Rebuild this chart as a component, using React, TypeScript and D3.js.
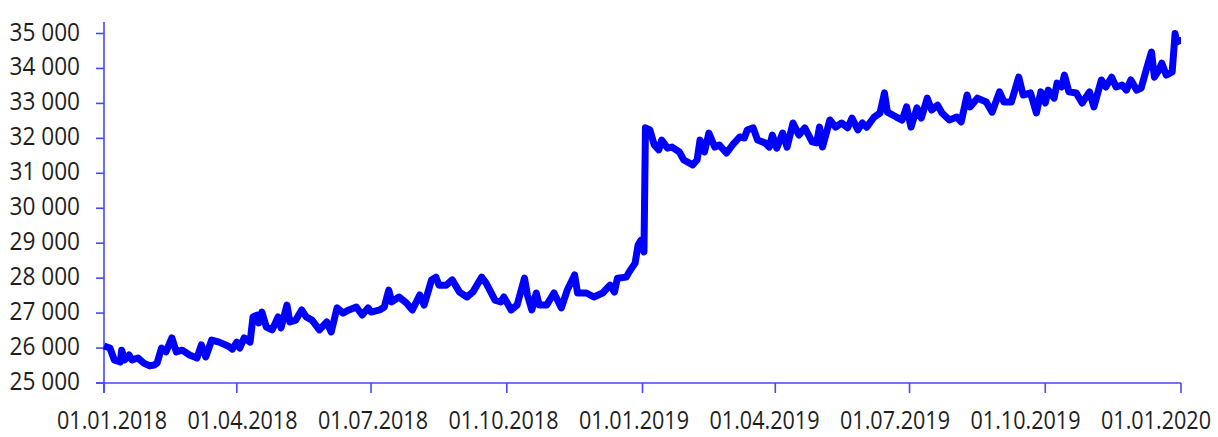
import React from 'react';
import * as d3 from 'd3';

// readings
const dates: string[] = [
  '2018-01-01', '2018-01-05', '2018-01-08', '2018-01-12', '2018-01-13', '2018-01-15', '2018-01-18', '2018-01-20',
  '2018-01-24', '2018-01-28', '2018-02-01', '2018-02-04', '2018-02-06', '2018-02-09', '2018-02-12', '2018-02-16',
  '2018-02-19', '2018-02-23', '2018-02-28', '2018-03-05', '2018-03-08', '2018-03-11', '2018-03-15', '2018-03-20',
  '2018-03-26', '2018-03-29', '2018-04-01', '2018-04-03', '2018-04-06', '2018-04-10', '2018-04-12', '2018-04-15',
  '2018-04-16', '2018-04-18', '2018-04-21', '2018-04-25', '2018-04-29', '2018-05-01', '2018-05-05', '2018-05-07',
  '2018-05-11', '2018-05-15', '2018-05-18', '2018-05-22', '2018-05-27', '2018-06-01', '2018-06-04', '2018-06-08',
  '2018-06-12', '2018-06-16', '2018-06-21', '2018-06-25', '2018-06-29', '2018-07-01', '2018-07-07', '2018-07-10',
  '2018-07-13', '2018-07-15', '2018-07-20', '2018-07-25', '2018-07-29', '2018-08-03', '2018-08-06', '2018-08-11',
  '2018-08-14', '2018-08-16', '2018-08-21', '2018-08-25', '2018-08-30', '2018-09-04', '2018-09-08', '2018-09-14',
  '2018-09-17', '2018-09-23', '2018-09-27', '2018-09-29', '2018-10-04', '2018-10-08', '2018-10-13', '2018-10-15',
  '2018-10-18', '2018-10-21', '2018-10-23', '2018-10-28', '2018-11-02', '2018-11-07', '2018-11-11', '2018-11-16',
  '2018-11-18', '2018-11-24', '2018-11-29', '2018-12-05', '2018-12-10', '2018-12-13', '2018-12-15', '2018-12-21',
  '2018-12-23', '2018-12-27', '2018-12-29', '2018-12-31', '2019-01-02', '2019-01-03', '2019-01-06', '2019-01-09',
  '2019-01-12', '2019-01-14', '2019-01-18', '2019-01-21', '2019-01-26', '2019-01-29', '2019-02-04', '2019-02-07',
  '2019-02-09', '2019-02-12', '2019-02-15', '2019-02-19', '2019-02-22', '2019-02-27', '2019-03-03', '2019-03-08',
  '2019-03-11', '2019-03-13', '2019-03-17', '2019-03-20', '2019-03-25', '2019-03-28', '2019-03-30', '2019-04-02',
  '2019-04-06', '2019-04-09', '2019-04-13', '2019-04-17', '2019-04-21', '2019-04-26', '2019-04-29', '2019-05-01',
  '2019-05-03', '2019-05-08', '2019-05-12', '2019-05-16', '2019-05-20', '2019-05-23', '2019-05-27', '2019-05-30',
  '2019-06-02', '2019-06-07', '2019-06-11', '2019-06-14', '2019-06-16', '2019-06-22', '2019-06-26', '2019-06-29',
  '2019-07-02', '2019-07-06', '2019-07-09', '2019-07-13', '2019-07-16', '2019-07-20', '2019-07-23', '2019-07-28',
  '2019-08-02', '2019-08-05', '2019-08-09', '2019-08-11', '2019-08-16', '2019-08-22', '2019-08-26', '2019-08-31',
  '2019-09-03', '2019-09-08', '2019-09-13', '2019-09-16', '2019-09-21', '2019-09-25', '2019-09-28', '2019-10-01',
  '2019-10-03', '2019-10-07', '2019-10-09', '2019-10-12', '2019-10-14', '2019-10-17', '2019-10-22', '2019-10-26',
  '2019-10-31', '2019-11-03', '2019-11-08', '2019-11-11', '2019-11-15', '2019-11-18', '2019-11-22', '2019-11-25',
  '2019-11-28', '2019-12-02', '2019-12-05', '2019-12-09', '2019-12-12', '2019-12-14', '2019-12-17', '2019-12-19',
  '2019-12-22', '2019-12-26', '2019-12-28', '2019-12-29', '2019-12-31', '2020-01-01',
];

const values: number[] = [
  26060, 26000, 25660, 25600, 25940, 25660, 25800, 25660,
  25715, 25570, 25490, 25515, 25570, 26000, 25890, 26290,
  25890, 25940, 25800, 25715, 26090, 25745, 26230, 26170,
  26060, 25970, 26170, 26000, 26290, 26170, 26890, 26945,
  26720, 27030, 26600, 26520, 26890, 26575, 27230, 26745,
  26800, 27090, 26890, 26800, 26520, 26745, 26460, 27150,
  27000, 27090, 27175, 26945, 27150, 27030, 27090, 27175,
  27660, 27320, 27460, 27290, 27090, 27520, 27230, 27950,
  28030, 27800, 27800, 27950, 27600, 27460, 27600, 28030,
  27860, 27370, 27320, 27460, 27090, 27230, 28000, 27520,
  27090, 27575, 27230, 27230, 27575, 27150, 27660, 28090,
  27575, 27575, 27460, 27575, 27800, 27600, 28000, 28030,
  28180, 28430, 28950, 29090, 28750, 32300, 32240, 31810,
  31670, 31950, 31720, 31750, 31610, 31380, 31240, 31380,
  31950, 31610, 32150, 31750, 31810, 31580, 31810, 32040,
  32010, 32240, 32300, 31950, 31870, 31750, 32095, 31720,
  32150, 31750, 32440, 32095, 32300, 31900, 31870, 32320,
  31750, 32525, 32320, 32440, 32300, 32580, 32240, 32440,
  32320, 32610, 32725, 33300, 32750, 32610, 32525, 32900,
  32320, 32870, 32580, 33150, 32810, 32950, 32725, 32525,
  32610, 32470, 33240, 32900, 33150, 33040, 32750, 33330,
  33040, 33040, 33750, 33240, 33300, 32725, 33330, 33010,
  33380, 33150, 33580, 33470, 33810, 33330, 33300, 33010,
  33330, 32900, 33670, 33470, 33750, 33470, 33525, 33380,
  33670, 33380, 33440, 34040, 34470, 33750, 33950, 34150,
  33810, 33900, 35000, 34750, 34800, 34800,
];

const yTicks: number[] = [25000, 26000, 27000, 28000, 29000, 30000, 31000, 32000, 33000, 34000, 35000];
const xTickLabels: string[] = [
  '01.01.2018', '01.04.2018', '01.07.2018', '01.10.2018', '01.01.2019',
  '01.04.2019', '01.07.2019', '01.10.2019', '01.01.2020',
];

const W = 1218;
const H = 437;
const axisColor = '#4646ff';
const textColor = '#1e1e1e';
const font = "'Open Sans', 'Noto Sans', sans-serif";

const parse = d3.timeParse('%Y-%m-%d');

export default function App() {
  const data = dates.map((d, i) => ({ date: parse(d) as Date, value: values[i] }));

  const x = d3.scaleTime()
    .domain([parse('2018-01-01') as Date, parse('2020-01-01') as Date])
    .range([104, 1181]);
  const y = d3.scaleLinear().domain([25000, 35000]).range([383, 33.5]);

  const tickDates = d3.timeMonth.every(3)!.range(parse('2018-01-01') as Date, parse('2020-01-02') as Date);
  // labels sit on their own even spacing in the source picture
  const labelX = d3.scaleLinear().domain([0, xTickLabels.length - 1]).range([112, 1156]);

  const line = d3.line<{ date: Date; value: number }>()
    .x(d => x(d.date))
    .y(d => y(d.value));

  const fmt = (v: number) => d3.format(',')(v).replace(',', ' ');

  return (
    <svg
      width={W}
      height={H}
      style={{ position: 'fixed', left: 0, top: 0, background: '#fff' }}
    >
      {/* y axis */}
      <line x1={104} x2={104} y1={22} y2={393} stroke={axisColor} strokeWidth={1.6} />
      {yTicks.map(t => (
        <g key={t}>
          <line x1={96} x2={104} y1={y(t)} y2={y(t)} stroke={axisColor} strokeWidth={1.6} />
          <text
            transform={`translate(80,${y(t) + 7}) scale(0.87,1)`}
            textAnchor="end"
            fontFamily={font}
            fontSize={26}
            fill={textColor}
          >
            {fmt(t)}
          </text>
        </g>
      ))}

      {/* x axis */}
      <line x1={96} x2={1181} y1={383} y2={383} stroke={axisColor} strokeWidth={1.6} />
      {tickDates.map((d, i) => (
        <line key={i} x1={x(d)} x2={x(d)} y1={383} y2={393} stroke={axisColor} strokeWidth={1.6} />
      ))}
      {xTickLabels.map((s, i) => (
        <text
          key={s}
          transform={`translate(${labelX(i)},429) scale(0.83,1)`}
          textAnchor="middle"
          fontFamily={font}
          fontSize={26}
          fill={textColor}
        >
          {s}
        </text>
      ))}

      <path
        d={line(data) || ''}
        fill="none"
        stroke="#0000ff"
        strokeWidth={7}
        strokeLinejoin="round"
      />
    </svg>
  );
}
